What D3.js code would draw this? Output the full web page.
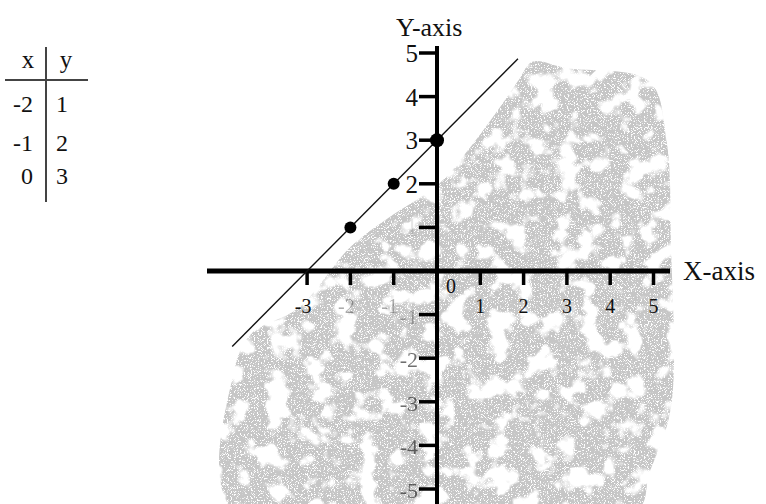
<!DOCTYPE html>
<html>
<head>
<meta charset="utf-8">
<script src="https://cdn.jsdelivr.net/npm/d3@7"></script>
<style>
  body { margin: 0; background: #fff; }
  svg { display: block; }
  text { font-family: "Liberation Serif", "DejaVu Serif", serif; fill: #111; }
</style>
</head>
<body>
<svg id="chart"></svg>
<script>
var width = 766, height = 504;

// table of values
var tableX = [-2, -1, 0];
var tableY = [1, 2, 3];

// axis ticks
var xTicks = [-3, -2, -1, 0, 1, 2, 3, 4, 5];
var yTicks = [5, 4, 3, 2, 1, -1, -2, -3, -4, -5];

// line y = x + 3, drawn between these x values
var lineX = [-4.73, 1.87];

// outline of the grey background smudge, in data units
var blobX = [2.2, 3.0, 4.9, 5.3, 5.4, 5.4, 4.9, 4.6, -4.7, -4.7, -4.3, -3.2, -2.0, -1.15, 0.05, 0.7, 1.45, 1.9];
var blobY = [4.8, 4.65, 4.35, 3.0, 0.7, -3.15, -4.65, -5.5, -5.5, -2.35, -1.45, -0.85, 0.55, 1.2, 2.0, 2.75, 3.75, 4.4];

var svg = d3.select("#chart").attr("width", width).attr("height", height);

var x = d3.scaleLinear().domain([0, 5]).range([437, 653.5]);
var y = d3.scaleLinear().domain([0, 5]).range([271, 53]);

// speckle filter for the smudge
var defs = svg.append("defs");
var f = defs.append("filter").attr("id", "speckle")
  .attr("x", 0).attr("y", 0).attr("width", 1).attr("height", 1);
f.append("feTurbulence").attr("type", "fractalNoise").attr("baseFrequency", 1.3)
  .attr("numOctaves", 1).attr("seed", 4).attr("result", "fine");
f.append("feColorMatrix").attr("in", "fine").attr("type", "matrix")
  .attr("values", "0 0 0 0 0  0 0 0 0 0  0 0 0 0 0  12 0 0 0 -4.3").attr("result", "fineMask");
f.append("feTurbulence").attr("type", "fractalNoise").attr("baseFrequency", 0.045)
  .attr("numOctaves", 3).attr("seed", 11).attr("result", "big");
f.append("feColorMatrix").attr("in", "big").attr("type", "matrix")
  .attr("values", "0 0 0 0 0  0 0 0 0 0  0 0 0 0 0  8 0 0 0 -2.9").attr("result", "bigMask");
f.append("feComposite").attr("in", "SourceGraphic").attr("in2", "fineMask")
  .attr("operator", "in").attr("result", "a");
f.append("feComposite").attr("in", "a").attr("in2", "bigMask").attr("operator", "in");

var blob = blobX.map(function(d, i) { return [x(d), y(blobY[i])]; });
svg.append("path")
  .attr("d", d3.line().curve(d3.curveCatmullRomClosed)(blob))
  .attr("fill", "#c6c6c6")
  .attr("filter", "url(#speckle)");

// table
var tg = svg.append("g");
tg.append("line").attr("x1", 46).attr("x2", 46).attr("y1", 47).attr("y2", 202)
  .attr("stroke", "#444").attr("stroke-width", 2);
tg.append("line").attr("x1", 5).attr("x2", 88).attr("y1", 80).attr("y2", 80)
  .attr("stroke", "#444").attr("stroke-width", 2);
tg.append("text").attr("x", 28).attr("y", 68).attr("text-anchor", "middle")
  .style("font-size", "25px").text("x");
tg.append("text").attr("x", 66).attr("y", 68).attr("text-anchor", "middle")
  .style("font-size", "25px").text("y");
var rowBase = [112, 151, 184];
tg.selectAll(".tx").data(tableX).enter().append("text")
  .attr("x", 33).attr("y", function(d, i) { return rowBase[i]; })
  .attr("text-anchor", "end").style("font-size", "24px")
  .text(function(d) { return d; });
tg.selectAll(".ty").data(tableY).enter().append("text")
  .attr("x", 56).attr("y", function(d, i) { return rowBase[i]; })
  .style("font-size", "24px")
  .text(function(d) { return d; });

// x axis
svg.append("line").attr("x1", 207).attr("x2", 670).attr("y1", y(0)).attr("y2", y(0))
  .attr("stroke", "#000").attr("stroke-width", 5);
svg.selectAll(".xt").data(xTicks.filter(function(d) { return d !== 0; })).enter().append("line")
  .attr("x1", function(d) { return x(d); }).attr("x2", function(d) { return x(d); })
  .attr("y1", y(0)).attr("y2", y(0) + 14)
  .attr("stroke", "#000").attr("stroke-width", 3.5);
svg.selectAll(".xl").data(xTicks).enter().append("text")
  .attr("x", function(d) { return d === 0 ? x(d) + 14 : x(d) - (d < 0 ? 4 : 0); })
  .attr("y", function(d) { return d === 0 ? 293 : 313; })
  .attr("text-anchor", "middle").style("font-size", "20px")
  .attr("opacity", function(d) { return d === -2 || d === -1 ? 0.35 : 1; })
  .text(function(d) { return d; });
svg.append("text").attr("x", 683).attr("y", 280).style("font-size", "27px").text("X-axis");

// y axis
svg.append("line").attr("x1", x(0)).attr("x2", x(0)).attr("y1", 46).attr("y2", height)
  .attr("stroke", "#000").attr("stroke-width", 4);
svg.selectAll(".yt").data(yTicks).enter().append("line")
  .attr("x1", x(0) - 18).attr("x2", x(0))
  .attr("y1", function(d) { return y(d); }).attr("y2", function(d) { return y(d); })
  .attr("stroke", "#000").attr("stroke-width", 3.5);
svg.selectAll(".yl").data(yTicks).enter().append("text")
  .attr("x", x(0) - 19).attr("y", function(d) { return y(d) + 9; })
  .attr("text-anchor", "end").style("font-size", function(d) { return d < 0 ? "22px" : "25px"; })
  .attr("opacity", function(d) { return d === 1 ? 0.1 : (d === -1 ? 0.3 : (d < 0 ? 0.6 : 1)); })
  .text(function(d) { return d; });
svg.append("text").attr("x", 396).attr("y", 36).style("font-size", "26px").text("Y-axis");

// line y = x + 3
svg.append("line")
  .attr("x1", x(lineX[0])).attr("y1", y(lineX[0] + 3))
  .attr("x2", x(lineX[1])).attr("y2", y(lineX[1] + 3))
  .attr("stroke", "#111").attr("stroke-width", 1.4);

// table points
svg.selectAll(".pt").data(tableX).enter().append("circle")
  .attr("cx", function(d) { return x(d); })
  .attr("cy", function(d, i) { return y(tableY[i]); })
  .attr("r", function(d) { return d === 0 ? 7 : 6; })
  .attr("fill", "#000");
</script>
</body>
</html>
